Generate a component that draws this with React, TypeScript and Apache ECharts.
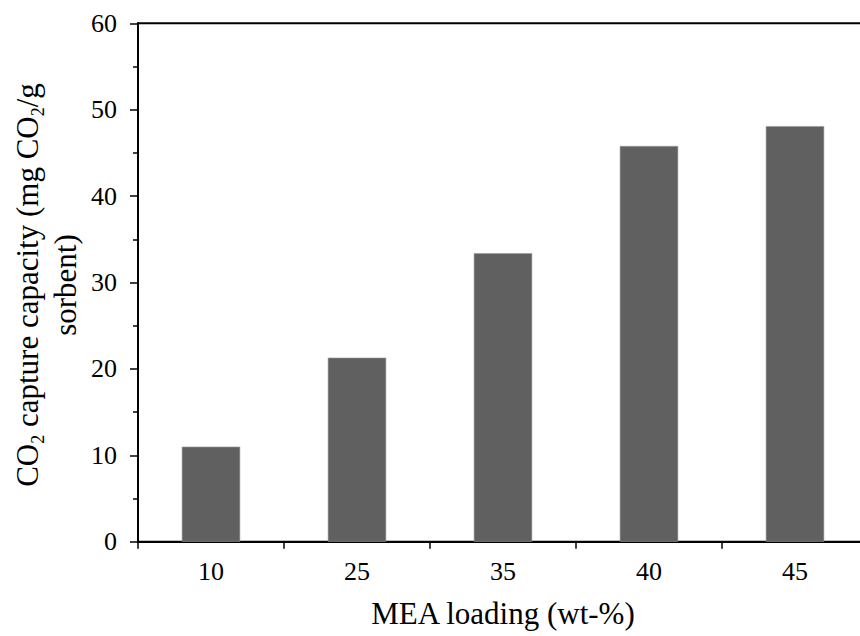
import React, { useEffect, useRef } from "react";
import * as echarts from "echarts";

// MEA loading levels (wt-%) and the measured CO2 uptake of each sorbent
const loadings = ["10", "25", "35", "40", "45"];
const captureCapacity = [11.0, 21.3, 33.4, 45.8, 48.1];

// Value-axis range
const yMin = 0;
const yMax = 60;
const yStep = 10;

const SERIF = "'Liberation Serif', 'Times New Roman', serif";

export default function App() {
  const ref = useRef<HTMLDivElement>(null);

  useEffect(() => {
    if (!ref.current) return;
    const chart = echarts.init(ref.current, undefined, { renderer: "svg" });

    chart.setOption({
      animation: false,
      backgroundColor: "#ffffff",
      textStyle: { fontFamily: SERIF, color: "#000" },
      // plot frame runs a little past the visible right edge
      grid: {
        left: 138,
        top: 23.3,
        bottom: 94.3,
        right: 0,
        show: true,
        borderColor: "#000",
        borderWidth: 2,
        backgroundColor: "transparent",
      },
      xAxis: {
        type: "category",
        data: loadings,
        boundaryGap: true,
        name: "MEA loading (wt-%)",
        nameLocation: "middle",
        nameGap: 56,
        nameTextStyle: { fontFamily: SERIF, fontSize: 31, color: "#000" },
        axisLine: { show: true, lineStyle: { color: "#000", width: 2 } },
        axisTick: { show: true, length: 7, alignWithLabel: false, lineStyle: { color: "#000", width: 1.5 } },
        axisLabel: { fontFamily: SERIF, fontSize: 26, color: "#000", margin: 17 },
        splitLine: { show: false },
      },
      yAxis: {
        type: "value",
        min: yMin,
        max: yMax,
        interval: yStep,
        axisLine: { show: true, lineStyle: { color: "#000", width: 2 } },
        axisTick: { show: true, length: 8, lineStyle: { color: "#000", width: 1.5 } },
        minorTick: { show: true, splitNumber: 2, length: 5, lineStyle: { color: "#000", width: 1.5 } },
        axisLabel: { fontFamily: SERIF, fontSize: 26, color: "#000", margin: 21 },
        splitLine: { show: false },
        minorSplitLine: { show: false },
      },
      graphic: [
        {
          type: "text",
          x: 46.5,
          y: 285,
          rotation: Math.PI / 2,
          style: {
            text:
              "{a|CO}{s|2}{a| capture capacity (mg CO}{s|2}{a|/g}\n{a|sorbent)}",
            textAlign: "center",
            textVerticalAlign: "middle",
            fill: "#000",
            rich: {
              a: { fontFamily: SERIF, fontSize: 31, lineHeight: 38, fill: "#000" },
              s: {
                fontFamily: SERIF,
                fontSize: 18,
                lineHeight: 26,
                verticalAlign: "bottom",
                fill: "#000",
              },
            },
          },
        },
      ],
      series: [
        {
          type: "bar",
          data: captureCapacity,
          barWidth: "40%",
          itemStyle: { color: "#606060", borderColor: "#9a9a9a", borderWidth: 0.6 },
        },
      ],
    });

    return () => chart.dispose();
  }, []);

  return (
    <div
      style={{
        position: "absolute",
        left: 0,
        top: 0,
        width: 860,
        height: 636,
        overflow: "hidden",
      }}
    >
      <div ref={ref} style={{ width: 868, height: 636 }} />
    </div>
  );
}
